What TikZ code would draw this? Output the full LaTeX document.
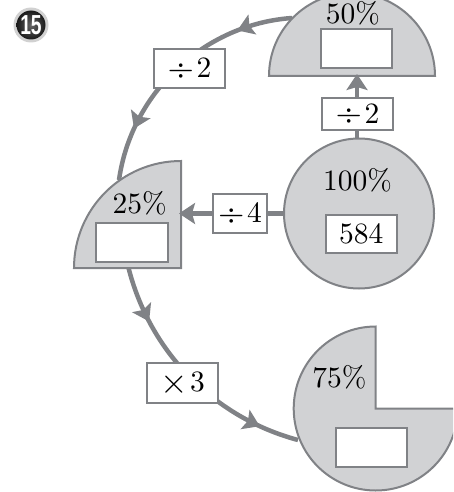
\documentclass[tikz,border=0pt]{standalone}
\usepackage{graphicx}
\usepackage{fontspec}
\newfontfamily\badgefont{Liberation Sans}
\newfontfamily\lmten{lmroman10-regular.otf}
\usetikzlibrary{arrows.meta,decorations.markings}
\definecolor{shapefill}{RGB}{209,210,212}
\definecolor{linegray}{RGB}{128,130,134}
\newcommand{\opdiv}{\raisebox{-1.7pt}{\scalebox{1.15}{÷}}}
\newcommand{\optimes}{\raisebox{-2pt}{\scalebox{1.2}{×}}}
\begin{document}
\begin{tikzpicture}[x=1pt,y=1pt,
  every node/.style={font=\lmten\fontsize{29.5}{33}\selectfont},
  pct/.style={anchor=base, inner sep=0pt},
  ansbox/.style={draw=linegray, line width=2pt, fill=white, inner sep=0pt},
  opbox/.style={draw=linegray, line width=2pt, fill=white, inner sep=0pt},
  shapebody/.style={draw=linegray, line width=2pt, fill=shapefill},
  conn/.style={draw=linegray, line width=4.5pt},
  headend/.style={-{Stealth[length=16pt,width=21pt,inset=3pt]}},
  midheads/.style 2 args={postaction={decorate}, decoration={markings,
     mark=at position #1 with {\arrow[linegray]{Stealth[length=16pt,width=21pt,inset=3pt]}},
     mark=at position #2 with {\arrow[linegray]{Stealth[length=16pt,width=21pt,inset=3pt]}}}},
  ]
\useasboundingbox (0,0) rectangle (453,-492);
\clip (0,0) rectangle (453,-492);

% connection points on the shapes
\coordinate (a50l) at (292,-18);
\coordinate (a50b) at (357,-74);
\coordinate (a25t) at (119,-180);
\coordinate (a25r) at (179,-213.5);
\coordinate (a25b) at (128.3,-267);
\coordinate (a75l) at (298,-440);

% curved connectors (under the shapes)
\draw[conn, midheads={0.22}{0.79}] (a50l) to[out=184,in=82,looseness=0.95] (a25t);
\draw[conn, midheads={0.23}{0.84}] (a25b) to[out=-76,in=165,looseness=0.92] (a75l);

% shapes
\path[shapebody] (269,-76) arc[start angle=180,end angle=0,radius=83] -- cycle;
\node[circle, shapebody, minimum size=150pt, inner sep=0pt] (c100) at (359,-213.5) {};
\path[shapebody] (181,-268) -- (181,-161) arc[start angle=90,end angle=180,radius=107] -- cycle;
\path[shapebody] (375.7,-408.5) -- (375.7,-326.5) arc[start angle=90,end angle=360,radius=82] -- cycle;

% straight connectors
\draw[conn, headend] (c100.north -| a50b) -- (a50b);
\draw[conn, headend] (c100.west) -- (a25r);

% percentages and answer boxes
\node[pct] (t50) at (353,-23.2) {50\%};
\node[ansbox, minimum width=71pt, minimum height=39pt] (b50) at (356.7,-48.5) {};
\node[pct] (t100) at (357.5,-190) {100\%};
\node[ansbox, minimum width=70.7pt, minimum height=38.3pt] (b100) at (361.3,-234.2) {584};
\node[pct] (t25) at (139.7,-213.3) {25\%};
\node[ansbox, minimum width=72.3pt, minimum height=39pt] (b25) at (132.2,-242.2) {};
\node[pct] (t75) at (339.3,-387.7) {75\%};
\node[ansbox, minimum width=70.7pt, minimum height=38.4pt] (b75) at (371.3,-447.5) {};

% operation labels
\node[opbox, minimum width=71pt, minimum height=39pt] (l1) at (189.5,-68.8) {\opdiv\kern2.5pt 2};
\node[opbox, minimum width=71.6pt, minimum height=31.7pt] (l2) at (357.5,-114.2) {\opdiv\kern2.5pt 2};
\node[opbox, minimum width=53.4pt, minimum height=39.3pt] (l3) at (240,-213.7) {\opdiv\kern2.5pt 4};
\node[opbox, minimum width=71.6pt, minimum height=39.4pt] (l4) at (182.5,-383) {\optimes\kern2.5pt 3};

% badge
\fill[black!18] (31,-25) circle (17.5);
\shade[inner color=black!60, outer color=black!90] (31,-25) circle (14.5);
\node[text=white, inner sep=0pt, font=\badgefont\bfseries\fontsize{27.5}{27.5}\selectfont] (badge) at (31,-25) {\scalebox{0.7}[1]{15}};
\end{tikzpicture}
\end{document}
